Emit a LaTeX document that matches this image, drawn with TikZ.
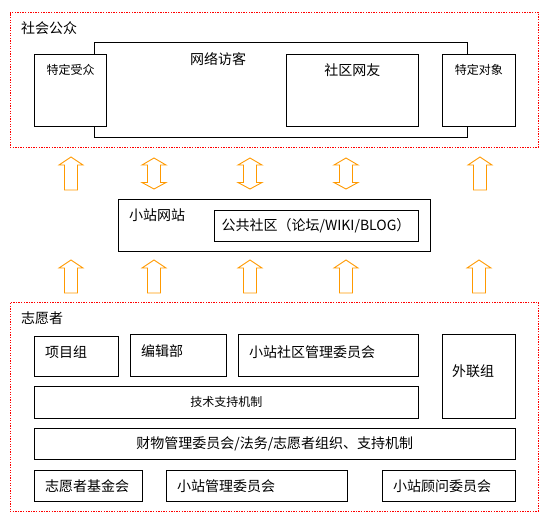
\documentclass[tikz,border=0pt]{standalone}
\usepackage{fontspec}
\setmainfont{Noto Sans CJK SC}
\definecolor{arrorange}{RGB}{255,153,0}
\begin{document}
\begin{tikzpicture}[x=1pt,y=-1pt,
  box/.style={draw=black,line width=0.9pt,fill=white,inner sep=0,anchor=north west,outer sep=0},
  grp/.style={draw=red,line width=0.8pt,dash pattern=on 1.3pt off 1.3pt,inner sep=0,anchor=north west,outer sep=0},
  lbl/.style={inner sep=0,font=\fontsize{14}{16}\selectfont},
  lbls/.style={inner sep=0,font=\fontsize{12}{14}\selectfont},
  uparr/.pic={\draw[arrorange,line width=0.9pt,fill=white]
     (-6.5,16.5) -- (-6.5,-8.5) -- (-12,-8.5) -- (0,-16.5) -- (12,-8.5) -- (6.5,-8.5) -- (6.5,16.5) -- cycle;},
  dblarr/.pic={\draw[arrorange,line width=0.9pt,fill=white]
     (0,-15.5) -- (12,-8.5) -- (6.5,-8.5) -- (6.5,9) -- (12,9) -- (0,15.5) -- (-12,9) -- (-6.5,9) -- (-6.5,-8.5) -- (-12,-8.5) -- cycle;}
]
\useasboundingbox (0,0) rectangle (552,523);

% public group
\node[grp,minimum width=528.5pt,minimum height=134.5pt] (pub) at (10,12.5) {};
\node[lbl,anchor=west] (pubt) at (21,28) {社会公众};
\node[box,minimum width=372.5pt,minimum height=94.5pt] (web) at (94.5,42.5) {};
\node[lbl,anchor=west] (webt) at (190,59) {网络访客};
\node[box,minimum width=72pt,minimum height=71.5pt] (tdsz) at (34.5,54.5) {};
\node[lbls] (tdszt) at (70.5,70) {特定受众};
\node[box,minimum width=131.5pt,minimum height=71.5pt] (sqwy) at (286.5,54.5) {};
\node[lbl] (sqwyt) at (352.25,70) {社区网友};
\node[box,minimum width=72.5pt,minimum height=71.5pt] (tddx) at (442.5,54.5) {};
\node[lbls] (tddxt) at (478.75,70) {特定对象};

% upper arrows
\pic at (71,173.5) {uparr};
\pic at (154,173.5) {dblarr};
\pic at (250,173.5) {dblarr};
\pic at (346,173.5) {dblarr};
\pic at (480,173.5) {uparr};

% site
\node[box,minimum width=312pt,minimum height=52pt] (site) at (118,199) {};
\node[lbl,anchor=west] (sitet) at (129,215) {小站网站};
\node[box,minimum width=204pt,minimum height=31pt,font=\fontsize{14}{16}\selectfont] (comm) at (214,210) {公共社区（论坛/WIKI/BLOG）};

% lower arrows
\pic at (71,276.5) {uparr};
\pic at (154,276.5) {uparr};
\pic at (250,276.5) {uparr};
\pic at (346,276.5) {uparr};
\pic at (479,276.5) {uparr};

% volunteers group
\node[grp,minimum width=528.5pt,minimum height=208.5pt] (vol) at (10,302.5) {};
\node[lbl,anchor=west] (volt) at (21,318) {志愿者};
\node[box,minimum width=83.5pt,minimum height=40pt] (xmz) at (34.5,336) {};
\node[lbl,anchor=west] (xmzt) at (45,352) {项目组};
\node[box,minimum width=96pt,minimum height=42pt] (bjb) at (130,334) {};
\node[lbl,anchor=west] (bjbt) at (141,351) {编辑部};
\node[box,minimum width=180pt,minimum height=42pt] (sqgl) at (238,334) {};
\node[lbl,anchor=west] (sqglt) at (249,352) {小站社区管理委员会};
\node[box,minimum width=72.5pt,minimum height=84pt] (wlz) at (442.5,334) {};
\node[lbl,anchor=west] (wlzt) at (452,371) {外联组};
\node[box,minimum width=383.5pt,minimum height=32pt,font=\fontsize{12}{14}\selectfont] (jszc) at (34.5,386) {技术支持机制};
\node[box,minimum width=480.5pt,minimum height=31pt,font=\fontsize{14}{16}\selectfont] (cw) at (34.5,428) {财物管理委员会/法务/志愿者组织、支持机制};
\node[box,minimum width=108pt,minimum height=31pt] (jjh) at (34.5,470) {};
\node[lbl,anchor=west] (jjht) at (45,486) {志愿者基金会};
\node[box,minimum width=180.5pt,minimum height=31pt] (zgl) at (166.5,470) {};
\node[lbl,anchor=west] (zglt) at (177,486) {小站管理委员会};
\node[box,minimum width=132.5pt,minimum height=31pt] (gw) at (382.5,470) {};
\node[lbl,anchor=west] (gwt) at (393,486) {小站顾问委员会};
\end{tikzpicture}
\end{document}
